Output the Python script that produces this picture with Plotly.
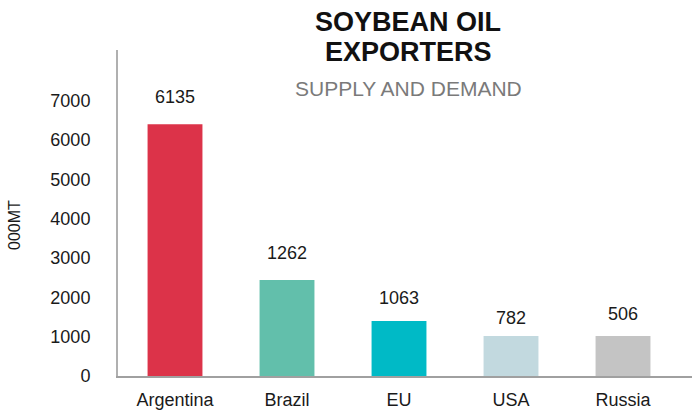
import plotly.graph_objects as go

categories = ["Argentina", "Brazil", "EU", "USA", "Russia"]
bar_values = [6400, 2440, 1400, 1020, 1020]
value_labels = ["6135", "1262", "1063", "782", "506"]
y_ticks = [0, 1000, 2000, 3000, 4000, 5000, 6000, 7000]

colors = ["#DC3349", "#62BFAB", "#00BAC6", "#C2D9DF", "#C4C4C4"]
label_shifts = [27, 27, 23, 18, 22]

W, H = 693, 417
ML, MR, MT, MB = 118, 1, 50, 41
PW = W - ML - MR
PH = H - MT - MB

def px_x(p):
    return (p - ML) / PW

def px_y(p):
    return (H - MB - p) / PH

FONT = "Liberation Sans, Arial, sans-serif"

fig = go.Figure(go.Bar(
    x=categories, y=bar_values, marker=dict(color=colors, line=dict(width=0)),
    width=0.49, hoverinfo="skip",
))

annotations = []
for c, v, lab, s in zip(categories, bar_values, value_labels, label_shifts):
    annotations.append(dict(x=c, y=v, text=lab, showarrow=False, yshift=s,
                            xref="x", yref="y", yanchor="middle",
                            font=dict(family=FONT, size=18, color="#1a1a1a")))

annotations += [
    dict(text="<b>SOYBEAN OIL</b>", x=px_x(408), y=px_y(22.5), xref="paper", yref="paper",
         showarrow=False, xanchor="center", yanchor="middle", borderpad=0,
         font=dict(family=FONT, size=27, color="#111111")),
    dict(text="<b>EXPORTERS</b>", x=px_x(408), y=px_y(52.5), xref="paper", yref="paper",
         showarrow=False, xanchor="center", yanchor="middle", borderpad=0,
         font=dict(family=FONT, size=27, color="#111111")),
    dict(text="SUPPLY AND DEMAND", x=px_x(408), y=px_y(88.7), xref="paper", yref="paper",
         showarrow=False, xanchor="center", yanchor="middle",
         font=dict(family=FONT, size=21, color="#7a7a7a")),
    dict(text="000MT", x=px_x(14), y=px_y(225), xref="paper", yref="paper",
         showarrow=False, xanchor="center", yanchor="middle", textangle=-90,
         font=dict(family=FONT, size=16, color="#1a1a1a")),
]

fig.update_layout(
    width=W, height=H,
    margin=dict(l=ML, r=MR, t=MT, b=MB, pad=0),
    paper_bgcolor="white", plot_bgcolor="white",
    showlegend=False,
    annotations=annotations,
    xaxis=dict(range=[-0.509, 4.616], showline=True, linecolor="#a0a0a0", linewidth=2,
               showgrid=False, zeroline=False, ticks="", ticklabelstandoff=6,
               tickfont=dict(family=FONT, size=18, color="#1a1a1a"), fixedrange=True),
    yaxis=dict(range=[0, 8290], tickvals=y_ticks, showline=True, linecolor="#b0b0b0",
               linewidth=2, showgrid=False, zeroline=False, ticks="",
               ticklabelstandoff=22,
               tickfont=dict(family=FONT, size=18, color="#1a1a1a"), fixedrange=True),
)

fig.write_html("out.html", config={"displayModeBar": False},
               post_script="document.body.style.margin='0px';document.body.style.overflow='hidden';")
